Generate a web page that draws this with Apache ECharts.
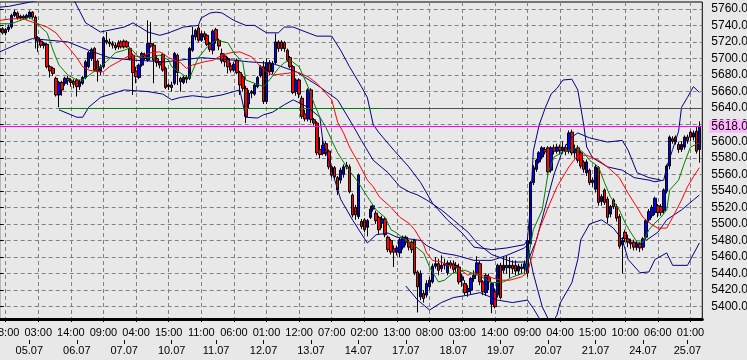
<!DOCTYPE html>
<html><head><meta charset="utf-8">
<script src="https://cdn.jsdelivr.net/npm/echarts@6/dist/echarts.min.js"></script>
<style>html,body{margin:0;padding:0;background:#e8e8e8;overflow:hidden}#c{width:747px;height:360px}</style>
</head><body><div id="c"></div>
<script>
// trading days: [date, first hour, last hour]
const days = [['04.07',6,15],['05.07',0,15],['06.07',0,15],['07.07',0,15],['10.07',1,15],['11.07',0,15],['12.07',0,15],['13.07',0,15],['14.07',0,15],['17.07',0,15],['18.07',0,15],['19.07',0,15],['20.07',0,15],['21.07',0,15],['24.07',1,15],['25.07',0,4]];

const opens = [5732,5736,5731,5735,5738,5752,5755,5749,5751,5749,5750,5756,5750,5725,5721,5716,5717,5690,5688,5676,5656,5671,5670,5676,5673,5672,5674,5666,5670,5677,5690,5700,5712,5697,5684,5690,5722,5720,5718,5716,5719,5720,5721,5720,5712,5704,5685,5677,5692,5704,5698,5718,5716,5700,5695,5705,5688,5666,5668,5670,5704,5676,5671,5677,5676,5710,5726,5737,5722,5730,5728,5718,5710,5735,5722,5706,5703,5700,5691,5686,5698,5683,5678,5664,5645,5658,5657,5666,5679,5690,5648,5695,5684,5695,5720,5720,5719,5710,5701,5690,5660,5674,5652,5633,5627,5662,5626,5622,5590,5585,5597,5588,5569,5568,5556,5553,5560,5569,5569,5535,5520,5509,5503,5505,5496,5508,5518,5513,5508,5501,5506,5484,5480,5470,5466,5465,5472,5484,5478,5478,5480,5442,5412,5416,5414,5424,5430,5449,5452,5446,5450,5441,5453,5452,5447,5448,5432,5428,5418,5420,5434,5441,5452,5430,5417,5436,5403,5418,5414,5450,5444,5450,5447,5450,5450,5443,5448,5446,5441,5476,5550,5566,5575,5581,5590,5592,5565,5592,5588,5593,5589,5592,5588,5611,5586,5592,5586,5575,5562,5565,5550,5542,5568,5527,5541,5530,5512,5529,5521,5509,5475,5490,5482,5478,5478,5472,5476,5472,5484,5505,5510,5514,5522,5521,5516,5540,5570,5603,5605,5596,5590,5593,5605,5611,5605,5612,5590];
const closes = [5736,5731,5735,5738,5752,5756,5749,5751,5749,5752,5756,5750,5725,5721,5716,5718,5690,5685,5682,5656,5671,5662,5676,5673,5671,5669,5666,5672,5677,5696,5707,5711,5686,5684,5690,5725,5720,5718,5716,5713,5714,5714,5714,5714,5700,5683,5678,5692,5706,5700,5718,5715,5698,5695,5692,5686,5665,5668,5665,5706,5683,5672,5677,5675,5712,5728,5734,5722,5730,5726,5717,5711,5733,5722,5715,5697,5696,5690,5686,5693,5683,5668,5664,5630,5658,5660,5668,5677,5690,5648,5695,5684,5694,5720,5712,5712,5712,5698,5690,5659,5674,5657,5630,5627,5662,5626,5622,5586,5584,5595,5586,5569,5559,5557,5541,5565,5569,5571,5539,5511,5511,5559,5497,5493,5504,5518,5522,5504,5493,5506,5487,5469,5466,5466,5471,5481,5484,5478,5472,5469,5441,5424,5440,5410,5428,5432,5449,5452,5444,5450,5452,5453,5450,5445,5450,5430,5436,5417,5422,5434,5438,5453,5430,5418,5438,5430,5428,5400,5450,5411,5450,5447,5450,5446,5443,5449,5446,5452,5480,5550,5568,5577,5586,5592,5587,5563,5592,5588,5593,5589,5592,5588,5610,5586,5590,5577,5570,5566,5575,5550,5553,5569,5526,5533,5526,5508,5521,5521,5507,5473,5480,5482,5478,5476,5472,5476,5471,5482,5504,5515,5520,5531,5514,5514,5541,5570,5605,5600,5599,5590,5596,5605,5601,5605,5610,5588,5618];
const lows = [5728,5729,5728,5732,5736,5750,5747,5747,5747,5747,5748,5748,5712,5708,5713,5712,5688,5677,5679,5654,5641,5655,5667,5668,5666,5664,5654,5662,5668,5675,5688,5697,5684,5672,5680,5688,5717,5714,5712,5710,5711,5712,5712,5713,5698,5656,5670,5675,5690,5698,5696,5713,5670,5690,5688,5684,5663,5662,5660,5668,5668,5660,5669,5670,5674,5708,5722,5720,5720,5722,5715,5708,5705,5718,5710,5694,5690,5682,5683,5684,5681,5656,5660,5622,5640,5652,5655,5664,5677,5645,5645,5680,5681,5693,5708,5709,5708,5696,5688,5657,5655,5652,5627,5624,5624,5622,5619,5583,5579,5583,5582,5566,5556,5554,5535,5549,5556,5566,5537,5508,5505,5506,5494,5490,5485,5506,5515,5500,5488,5495,5484,5466,5463,5448,5462,5460,5469,5474,5468,5465,5438,5393,5408,5405,5411,5420,5428,5446,5438,5442,5445,5438,5446,5440,5442,5427,5424,5414,5412,5415,5430,5438,5426,5414,5413,5420,5392,5398,5411,5409,5440,5440,5435,5440,5438,5438,5440,5440,5436,5472,5547,5563,5573,5578,5584,5561,5562,5584,5585,5584,5585,5583,5585,5583,5580,5574,5567,5562,5558,5547,5545,5538,5522,5522,5523,5501,5508,5518,5503,5470,5440,5478,5472,5470,5468,5468,5466,5468,5481,5502,5507,5511,5508,5510,5512,5537,5566,5597,5596,5586,5587,5590,5597,5600,5601,5585,5574];
const highs = [5738,5738,5737,5741,5754,5759,5757,5753,5753,5754,5758,5757,5752,5727,5723,5720,5719,5692,5690,5678,5673,5673,5678,5679,5676,5675,5676,5674,5679,5698,5709,5713,5714,5699,5693,5727,5732,5724,5721,5719,5722,5722,5723,5722,5714,5706,5690,5694,5708,5707,5746,5744,5719,5704,5697,5707,5690,5670,5672,5708,5706,5678,5679,5680,5714,5738,5736,5740,5733,5733,5730,5720,5735,5737,5724,5712,5706,5702,5695,5696,5700,5685,5681,5667,5662,5662,5670,5679,5692,5697,5700,5698,5697,5730,5722,5722,5721,5712,5703,5692,5676,5676,5655,5638,5664,5664,5628,5624,5605,5603,5600,5590,5571,5570,5558,5568,5572,5575,5572,5537,5523,5561,5506,5507,5506,5522,5524,5516,5510,5510,5508,5486,5482,5474,5474,5483,5486,5486,5481,5480,5482,5444,5444,5420,5432,5436,5452,5460,5458,5462,5458,5456,5456,5456,5454,5452,5440,5432,5426,5436,5444,5461,5455,5432,5440,5440,5430,5422,5452,5453,5460,5462,5460,5456,5456,5452,5452,5456,5482,5552,5571,5579,5588,5594,5593,5594,5594,5596,5597,5596,5600,5596,5613,5614,5596,5595,5588,5577,5578,5567,5556,5572,5570,5536,5543,5533,5523,5531,5524,5512,5484,5493,5487,5482,5481,5480,5478,5484,5506,5518,5523,5533,5524,5524,5543,5572,5607,5606,5607,5599,5600,5607,5608,5613,5613,5617,5624];

// indicator lines: [bar index, value]
const greenMA = [[0,5742],[4,5742],[10,5750],[12,5744],[16,5731],[18,5710],[20,5692],[23,5680],[26,5674],[28,5674],[31,5682],[34,5690],[36,5696],[39,5707],[42,5710],[44,5713],[47,5701],[51,5701],[54,5704],[57,5698],[58,5690],[62,5680],[64,5676],[67,5701],[70,5714],[73,5722],[77,5719],[79,5707],[82,5695],[83,5674],[86,5670],[89,5666],[91,5674],[94,5688],[96,5695],[98,5698],[101,5690],[104,5666],[106,5646],[108,5629],[110,5617],[112,5601],[114,5586],[117,5569],[121,5550],[124,5533],[127,5517],[130,5508],[132,5493],[134,5489],[136,5483],[139,5476],[143,5465],[145,5448],[148,5430],[150,5432],[153,5441],[157,5444],[159,5441],[162,5437],[166,5429],[170,5430],[173,5436],[177,5441],[178,5453],[180,5493],[183,5517],[185,5562],[187,5581],[190,5587],[195,5592],[197,5586],[199,5577],[202,5569],[204,5550],[206,5533],[209,5517],[211,5501],[213,5489],[215,5478],[217,5478],[219,5493],[221,5501],[223,5508],[225,5517],[226,5541],[229,5553],[231,5574],[233,5593],[236,5598]];
const redMA = [[0,5746],[4,5748],[8,5748],[11,5744],[16,5738],[19,5731],[21,5722],[24,5710],[26,5701],[28,5690],[30,5686],[33,5684],[35,5684],[37,5690],[41,5698],[44,5704],[47,5702],[51,5707],[54,5708],[57,5701],[61,5695],[63,5688],[65,5692],[69,5696],[72,5698],[75,5704],[78,5707],[81,5708],[85,5702],[88,5690],[90,5684],[92,5680],[97,5682],[100,5684],[104,5678],[107,5670],[109,5662],[112,5650],[114,5623],[116,5610],[118,5593],[121,5574],[124,5553],[126,5545],[128,5533],[132,5520],[135,5508],[138,5501],[140,5493],[143,5475],[144,5465],[146,5456],[149,5454],[151,5450],[154,5448],[158,5438],[160,5441],[162,5438],[166,5435],[169,5432],[172,5432],[176,5436],[178,5441],[182,5493],[185,5520],[188,5545],[192,5569],[195,5583],[198,5583],[202,5577],[205,5569],[209,5556],[212,5537],[215,5520],[217,5508],[220,5499],[222,5495],[225,5495],[227,5508],[230,5529],[232,5545],[234,5557],[236,5568]];
// navy band lines, traced piece by piece
const bandUpper = [[0,5762],[3,5763],[10,5768],[19,5775],[22,5778],[25,5771],[29,5743],[34,5732],[42,5738],[45,5743],[50,5732],[54,5728],[57,5731],[62,5738],[67,5740],[68,5749],[71,5755],[73,5756],[75,5755],[79,5746],[83,5740],[86,5740],[90,5731],[94,5731],[96,5738],[99,5738],[104,5731],[107,5727],[112,5727],[115,5710],[118,5690],[122,5666],[124,5653],[126,5620],[128,5610],[133,5589],[138,5569],[142,5550],[146,5525],[151,5505],[156,5489],[160,5472],[166,5469],[171,5471],[177,5475],[178,5481],[179,5520],[180,5588],[182,5620],[184,5640],[186,5657],[188,5664],[190,5674],[193,5675],[195,5662],[196,5641],[197,5620],[198,5593],[200,5580],[205,5569],[210,5565],[214,5556],[219,5553],[221,5551],[224,5553],[225,5569],[227,5590],[229,5612],[230,5641],[232,5653],[234,5666],[236,5659]];
const bandMid = [[0,5708],[7,5719],[11,5724],[23,5720],[30,5710],[37,5701],[45,5698],[56,5696],[68,5701],[79,5698],[84,5696],[92,5694],[100,5684],[107,5668],[114,5650],[119,5620],[122,5601],[126,5577],[131,5562],[135,5545],[138,5539],[141,5535],[144,5529],[149,5517],[153,5505],[158,5490],[161,5477],[166,5463],[173,5454],[178,5454],[181,5480],[184,5520],[187,5560],[190,5590],[193,5605],[195,5610],[199,5604],[205,5599],[210,5601],[212,5589],[215,5562],[219,5556],[223,5553]];
const bandLower = [[20,5638],[24,5632],[26,5629],[28,5629],[30,5641],[34,5653],[42,5662],[50,5660],[55,5657],[58,5650],[61,5653],[65,5655],[70,5653],[75,5656],[81,5662],[83,5629],[87,5628],[89,5632],[92,5635],[96,5644],[99,5650],[104,5641],[108,5629],[109,5600],[112,5565],[115,5530],[119,5505],[124,5477],[127,5487],[131,5489],[134,5484],[142,5480],[144,5474],[149,5465],[154,5462],[160,5456],[166,5456],[171,5462],[177,5471],[178,5475],[180,5440],[183,5400],[186,5378],[188,5390],[189,5404],[193,5429],[195,5457],[196,5481],[199,5500],[203,5505],[207,5495],[210,5481],[212,5457],[216,5441],[219,5442],[221,5457],[225,5465],[227,5450],[232,5450],[236,5477]];
const bandLowerOuter = [[137,5425],[141,5408],[145,5396],[149,5405],[153,5411],[158,5414],[162,5417],[168,5408],[173,5405],[178,5408],[180,5398],[183,5380]];
const bandLowerInner = [[218,5480],[222,5490],[225,5505],[230,5517],[234,5529],[236,5535]];

const bidPrice = 5618;
const levelPrice = 5640;
const levelFrom = 20, levelSplit = 129;

// layout constants (pixels)
const PX_TOP = 2, PX_BOTTOM = 319, PLOT_LEFT = -0.3, PLOT_RIGHT = 702.3;
const Y_LO = 5400, Y_HI = 5780, PX_LO = 306.7, PX_HI = -7.7;
const pxPerUnit = (PX_LO - PX_HI) / (Y_HI - Y_LO);
const yMax = Y_HI - (PX_TOP - PX_HI) / pxPerUnit;
const yMin = Y_LO - (PX_BOTTOM - PX_LO) / pxPerUnit;

const cats = [];
const dayStart = [];
days.forEach(([d, h0, h1], di) => {
  for (let h = h0; h <= h1; h++) {
    dayStart.push(h === h0 && di > 0);
    cats.push(d + ' ' + String(h).padStart(2, '0') + ':00');
  }
});
cats.push(''); dayStart.push(false);
const isTimeTick = i => (i - 2) % 11 === 0 && i >= 0;

const FONT = '"Liberation Sans", Arial, sans-serif';
const GRIDC = '#808080';
const W = 747, H = 360;
const chart = echarts.init(document.getElementById('c'), null, {renderer: 'canvas'});

const candleData = opens.map((o, i) => [o, closes[i], lows[i], highs[i]]);
const lineS = (data, color) => ({
  type: 'line', xAxisIndex: 1, yAxisIndex: 1, data, showSymbol: false, symbol: 'none',
  lineStyle: {color, width: 1}, z: 4, silent: true, clip: true
});

chart.setOption({
  animation: false,
  backgroundColor: '#e8e8e8',
  grid: [
    {left: PLOT_LEFT, right: W - PLOT_RIGHT, top: PX_HI, bottom: H - PX_LO, show: false, containLabel: false, outerBoundsMode: 'none'},
    {left: PLOT_LEFT, right: W - PLOT_RIGHT, top: PX_TOP, bottom: H - PX_BOTTOM, show: true, borderColor: '#000', borderWidth: 1, backgroundColor: 'transparent', containLabel: false, outerBoundsMode: 'none'}
  ],
  xAxis: [
    {gridIndex: 0, type: 'value', show: false, min: 0, max: 1},
    {gridIndex: 1, type: 'category', data: cats, boundaryGap: false,
      axisLine: {lineStyle: {color: '#000', width: 3}},
      axisTick: {show: true, interval: isTimeTick, length: 3, lineStyle: {color: '#000'}},
      axisLabel: {interval: isTimeTick, formatter: v => v.split(' ')[1] || '', margin: 8, color: '#000', fontSize: 11, fontFamily: FONT, hideOverlap: false},
      splitLine: {show: true, interval: isTimeTick, lineStyle: {color: GRIDC, type: [4, 3], width: 1}}
    },
    {gridIndex: 1, type: 'category', data: cats, boundaryGap: false, position: 'bottom', offset: 21,
      axisLine: {show: false},
      axisTick: {show: true, interval: i => dayStart[i], length: 4, lineStyle: {color: '#000'}},
      axisLabel: {interval: i => dayStart[i], formatter: v => v.split(' ')[0], margin: 5, color: '#000', fontSize: 11, fontFamily: FONT, hideOverlap: false},
      splitLine: {show: false}
    }
  ],
  yAxis: [
    {gridIndex: 0, type: 'value', position: 'right', min: Y_LO, max: Y_HI, interval: 20,
      axisLine: {show: false},
      axisTick: {show: true, length: 4, lineStyle: {color: '#000'}},
      axisLabel: {margin: 9, color: '#000', fontSize: 12, fontFamily: FONT, formatter: v => v <= 5760 ? v.toFixed(1) : ''},
      splitLine: {show: true, lineStyle: {color: GRIDC, type: [4, 3], width: 1}}
    },
    {gridIndex: 1, type: 'value', min: yMin, max: yMax, show: false, splitLine: {show: false}}
  ],
  series: [
    {type: 'candlestick', xAxisIndex: 1, yAxisIndex: 1, data: candleData, barWidth: 3, z: 3, clip: true,
      itemStyle: {color: '#0000ff', color0: '#ff0000', borderColor: '#000', borderColor0: '#000', borderWidth: 1},
      markLine: {silent: true, symbol: 'none', animation: false,
        data: [
          {yAxis: bidPrice, lineStyle: {color: '#ff00ff', width: 1, type: 'solid'},
            label: {show: true, position: 'end', distance: 7, formatter: bidPrice.toFixed(1), color: '#000', fontSize: 12, fontFamily: FONT, backgroundColor: '#ffb4ff', padding: [1, 3, 0, 2]}},
          [{coord: [levelFrom, levelPrice], lineStyle: {color: '#008000', width: 1, type: 'solid'}, label: {show: false}}, {coord: [levelSplit, levelPrice]}],
          [{coord: [levelSplit, levelPrice], lineStyle: {color: '#505050', width: 1, type: 'solid'}, label: {show: false}}, {coord: [cats.length - 1, levelPrice]}]
        ]
      }
    },
    lineS(bandUpper, '#000080'),
    lineS(bandMid, '#000080'),
    lineS(bandLower, '#000080'),
    lineS(bandLowerOuter, '#000080'),
    lineS(bandLowerInner, '#000080'),
    lineS(redMA, '#ff0000'),
    lineS(greenMA, '#008000')
  ]
});
</script></body></html>
